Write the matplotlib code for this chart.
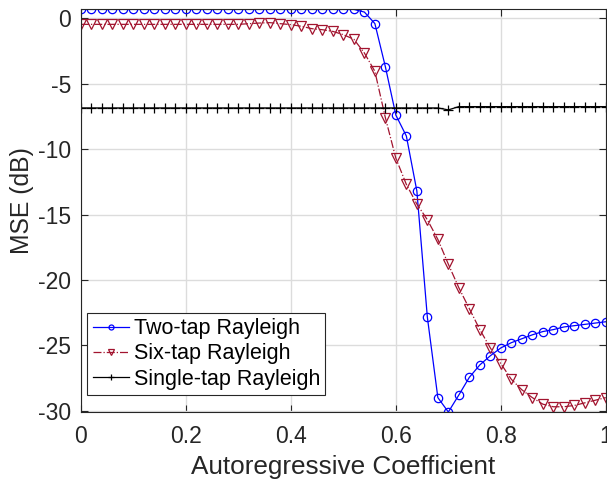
import numpy as np
import matplotlib
matplotlib.use("Agg")
import matplotlib.pyplot as plt

plt.rcParams['font.family'] = ['Liberation Sans', 'DejaVu Sans']

# autoregressive coefficient, step 0.02
ar_coef = np.round(np.arange(0, 1.0001, 0.02), 2)

two_tap = [0.68] * 27 + [0.48, -0.4, -3.7, -7.4, -9.0, -13.2, -22.85, -29.0, -30.1,
                         -28.8, -27.45, -26.5, -25.8, -25.2, -24.8, -24.5, -24.2,
                         -23.95, -23.8, -23.6, -23.5, -23.4, -23.3, -23.2]

six_tap = [-0.46] * 16 + [-0.41, -0.36, -0.33, -0.41, -0.48, -0.61, -0.79, -0.87,
                          -1.0, -1.25, -1.6, -2.65, -4.05, -7.6, -10.7, -12.7,
                          -14.2, -15.4, -16.9, -18.8, -20.6, -22.2, -23.8, -25.2,
                          -26.4, -27.6, -28.4, -29.0, -29.5, -29.7, -29.7, -29.6,
                          -29.4, -29.2, -29.0]

single_tap = [-6.85] * 35 + [-7.0] + [-6.75] * 15

fig = plt.figure(figsize=(6.07, 4.83), dpi=100)
ax = fig.add_axes([0.1334, 0.147, 0.8646, 0.834])

ax.plot(ar_coef, two_tap, '-o', color='#0000FF', lw=0.9, ms=6, mfc='none',
        mew=0.9, label='Two-tap Rayleigh')
ax.plot(ar_coef, six_tap, '-.v', color='#A2142F', lw=0.9, ms=7, mfc='none',
        mew=0.9, label='Six-tap Rayleigh')
ax.plot(ar_coef, single_tap, '-+', color='black', lw=0.9, ms=7, mew=0.9,
        label='Single-tap Rayleigh')

ax.set_xlim(0, 1)
ax.set_ylim(-30.1, 0.7)
ax.set_xticks([0, 0.2, 0.4, 0.6, 0.8, 1])
ax.set_xticklabels(['0', '0.2', '0.4', '0.6', '0.8', '1'])
ax.set_yticks([-30, -25, -20, -15, -10, -5, 0])
ax.set_yticklabels(['-30', '-25', '-20', '-15', '-10', '-5', '0'])

ax.grid(True, color='#dcdcdc', lw=1)
ax.set_axisbelow(True)
ax.tick_params(direction='in', top=True, right=True, labelsize=16.5,
               colors='#262626', length=5, width=0.8)
ax.tick_params(axis='x', pad=9.5)
ax.tick_params(axis='y', pad=7)
for s in ax.spines.values():
    s.set_color('#262626')
    s.set_linewidth(0.8)

ax.set_xlabel('Autoregressive Coefficient', fontsize=18.8, color='#262626',
              labelpad=5)
ax.set_ylabel('MSE (dB)', fontsize=17.8, color='#262626')
ax.yaxis.set_label_coords(-0.089, 0.526)

leg = ax.legend(loc='lower left', bbox_to_anchor=(0.012, 0.042), fontsize=15.5,
                markerscale=0.6, handlelength=1.7, handletextpad=0.2,
                borderpad=0.25, labelspacing=0.2, borderaxespad=0,
                fancybox=False, framealpha=1)
leg.get_frame().set_edgecolor('#262626')
leg.get_frame().set_linewidth(0.8)

fig.savefig('out.png', dpi=100)
